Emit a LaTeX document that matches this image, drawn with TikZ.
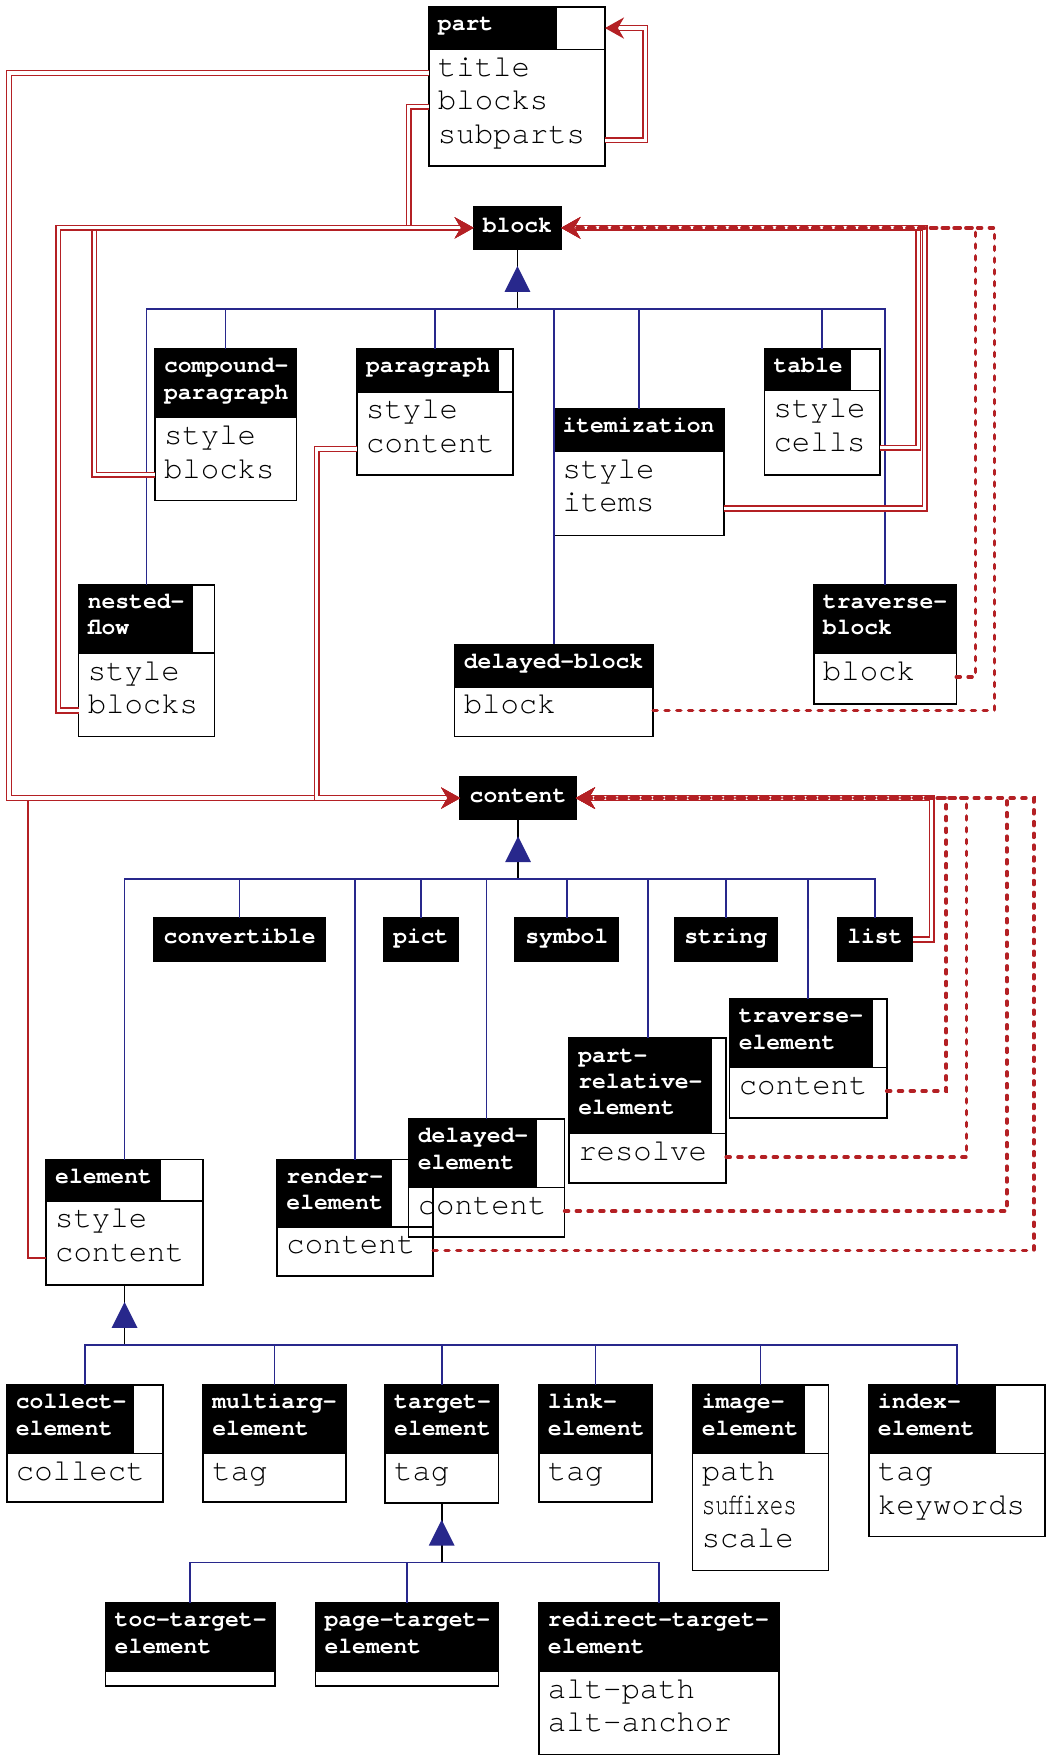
\documentclass[tikz,border=0pt]{standalone}
\usepackage{fontspec}
\setmonofont{TeX Gyre Cursor}
\usepackage{tikz}
\usetikzlibrary{arrows.meta,calc,positioning}
\definecolor{refRed} {RGB}{180, 32, 36}
\definecolor{isaBlue}{RGB}{40,  40, 140}

\newcommand{\fieldfont}{\fontsize{27.3}{30}\selectfont\ttfamily}
\newcommand{\namefont}{\fontsize{20.5}{23.5}\selectfont\ttfamily\bfseries}

% class: name, top left, width, height, black width, header height, title
\newcommand{\umlclass}[7]{%
  \node[clsbox,minimum width=#3pt,minimum height=#4pt] (#1) at #2 {};
  \node[clshead,minimum width=#5pt,minimum height=#6pt] (#1-h) at #2 {};
  \draw[line width=1.4pt] (#1.west |- #1-h.south) -- (#1.east |- #1-h.south);
  \node[clsname] (#1-n) at ($(#1.north west)+(8,4)$) {\rule{0pt}{17pt}#7};
}

\begin{document}
\begin{tikzpicture}[x=1pt,y=-1pt,
    clsbox/.style={draw,line width=1.4pt,anchor=north west,inner sep=0,outer sep=0},
    clshead/.style={fill=black,anchor=north west,inner sep=0,outer sep=0},
    clsname/.style={anchor=north west,align=left,text=white,font=\namefont,inner sep=0},
    fld/.style={anchor=base west,font=\fieldfont,inner sep=0,text height=12pt,text depth=6pt},
    namebox/.style={fill=black,draw=black,line width=1.4pt,anchor=north west,text=white,
      font=\namefont,minimum height=38pt,inner sep=0,outer sep=0,text height=14pt,text depth=6pt},
    isaline/.style={isaBlue,line width=1.5pt},
    stemline/.style={black,line width=1.5pt},
    listref/.style={refRed,line width=1.3pt,double=white,double distance=2.8pt,
      -{Stealth[length=17pt,width=19pt]}},
    oneref/.style={refRed,line width=1.5pt,-{Stealth[length=17pt,width=19pt]}},
    thunkref/.style={refRed,line width=3.2pt,dash pattern=on 3.5pt off 7pt,line cap=round,
      -{Stealth[length=17pt,width=19pt]}}]

  \useasboundingbox (0,0) rectangle (937,1568);

  % part and block
  \umlclass{part}{(382,6)}{157}{142}{114}{38}{part}
  \node[fld] (part-title) at (390,68) {title};
  \node[fld] (part-blocks) at (390,98) {blocks};
  \node[fld] (part-subparts) at (390,128) {subparts};
  \node[namebox,minimum width=78pt] (block) at (422,184) {block};

  % block subclasses
  \umlclass{cpara}{(138,311)}{126}{135}{126}{61}{compound-\\paragraph}
  \node[fld] (cpara-style) at (146,396) {style};
  \node[fld] (cpara-blocks) at (146,426) {blocks};
  \umlclass{para}{(318,311)}{139}{112}{127}{38}{paragraph}
  \node[fld] (para-style) at (326,373) {style};
  \node[fld] (para-content) at (326,403) {content};
  \umlclass{item}{(493,364)}{152}{113}{152}{38}{itemization}
  \node[fld] (item-style) at (501,426) {style};
  \node[fld] (item-items) at (501,456) {items};
  \umlclass{table}{(681,311)}{103}{112}{77}{37}{table}
  \node[fld] (table-style) at (689,372) {style};
  \node[fld] (table-cells) at (689,402) {cells};
  \umlclass{nflow}{(70,521)}{121}{135}{102}{61}{nested-\\flow}
  \node[fld] (nflow-style) at (78,606) {style};
  \node[fld] (nflow-blocks) at (78,636) {blocks};
  \umlclass{dblock}{(405,574)}{177}{82}{177}{38}{delayed-block}
  \node[fld] (dblock-block) at (413,636) {block};
  \umlclass{tblock}{(725,521)}{127}{106}{127}{61}{traverse-\\block}
  \node[fld] (tblock-block) at (733,606) {block};

  % content and its subclasses
  \node[namebox,minimum width=103pt] (content) at (410,692) {content};
  \node[namebox,minimum width=153pt] (conv) at (137,818) {convertible};
  \node[namebox,minimum width=66pt] (pict) at (342,818) {pict};
  \node[namebox,minimum width=92pt] (symbol) at (459,818) {symbol};
  \node[namebox,minimum width=91pt] (string) at (601,818) {string};
  \node[namebox,minimum width=67pt] (list) at (746,818) {list};
  \umlclass{telem}{(650,890)}{140}{106}{128}{61}{traverse-\\element}
  \node[fld] (telem-content) at (658,975) {content};
  \umlclass{prel}{(507,925)}{140}{129}{127}{85}{part-\\relative-\\element}
  \node[fld] (prel-resolve) at (515,1034) {resolve};
  \umlclass{relem}{(247,1033)}{139}{104}{102}{60}{render-\\element}
  \node[fld] (relem-content) at (255,1117) {content};
  \umlclass{delem}{(364,997)}{139}{105}{114}{61}{delayed-\\element}
  \node[fld] (delem-content) at (372,1082) {content};
  \umlclass{elem}{(41,1033)}{140}{112}{102}{37}{element}
  \node[fld] (elem-style) at (49,1094) {style};
  \node[fld] (elem-content) at (49,1124) {content};

  % element subclasses
  \umlclass{collect}{(6,1234)}{139}{104}{113}{61}{collect-\\element}
  \node[fld] (collect-collect) at (14,1319) {collect};
  \umlclass{multiarg}{(181,1234)}{127}{104}{127}{61}{multiarg-\\element}
  \node[fld] (multiarg-tag) at (189,1319) {tag};
  \umlclass{target}{(343,1234)}{101}{105}{101}{61}{target-\\element}
  \node[fld] (target-tag) at (351,1319) {tag};
  \umlclass{link}{(480,1234)}{101}{104}{101}{61}{link-\\element}
  \node[fld] (link-tag) at (488,1319) {tag};
  \umlclass{image}{(617,1234)}{121}{165}{100}{61}{image-\\element}
  \node[fld] (image-path) at (625,1319) {path};
  \node[fld] (image-suffixes) at (625,1349) {\scalebox{0.74}[1]{suffixes}};
  \node[fld] (image-scale) at (625,1379) {scale};
  \umlclass{index}{(774,1234)}{157}{135}{113}{61}{index-\\element}
  \node[fld] (index-tag) at (782,1319) {tag};
  \node[fld] (index-keywords) at (782,1349) {keywords};

  % target-element subclasses
  \umlclass{toc}{(94,1428)}{151}{74}{151}{61}{toc-target-\\element}
  \umlclass{page}{(281,1428)}{163}{74}{163}{61}{page-target-\\element}
  \umlclass{redirect}{(480,1428)}{214}{135}{214}{61}{redirect-target-\\element}
  \node[fld] (redirect-altpath) at (488,1513) {alt-path};
  \node[fld] (redirect-altanchor) at (488,1543) {alt-anchor};

  % inheritance trees
  \foreach \p/\kids in {block/{nflow,cpara,para,dblock,item,table,tblock},
      content/{elem,conv,relem,pict,delem,symbol,prel,string,telem,list},
      elem/{collect,multiarg,target,link,image,index},
      target/{toc,page,redirect}}{
    \coordinate (\p-bus) at ($(\p.south)+(0,53)$);
    \draw[stemline] (\p.south) -- (\p-bus);
    \fill[isaBlue] ($(\p.south)+(0,15)$) -- ++(11.5,23) -- ++(-23,0) -- cycle;
    \foreach \c in \kids
      \draw[isaline] (\c.north) |- (\p-bus);
  }

  % fields holding lists
  \draw[oneref] (elem.west |- elem-content) -- ++(-16,0) |- (content.west);
  \draw[listref] (part.west |- part-title) -- ++(-374,0) |- (content.west);
  \draw[listref] (para.west |- para-content) -- ++(-36,0) |- (content.west);
  \draw[listref] (list.east) -- ++(17,0) |- (content.east);
  \draw[listref] (part.west |- part-blocks) -- ++(-18,0) |- (block.west);
  \draw[listref] (cpara.west |- cpara-blocks) -- ++(-54,0) |- (block.west);
  \draw[listref] (nflow.west |- nflow-blocks) -- ++(-18,0) |- (block.west);
  \draw[listref] (table.east |- table-cells) -- ++(34,0) |- (block.east);
  \draw[listref] (item.east |- item-items) -- ++(179,0) |- (block.east);
  \draw[listref] (part.east |- part-subparts) -- ++(36,0) |- (part.east |- part-h);

  % delayed fields
  \draw[thunkref] (tblock.east |- tblock-block) -- ++(17,0) |- (block.east);
  \draw[thunkref] (dblock.east |- dblock-block) -- ++(304,0) |- (block.east);
  \draw[thunkref] (telem.east |- telem-content) -- ++(53,0) |- (content.east);
  \draw[thunkref] (prel.east |- prel-resolve) -- ++(214,0) |- (content.east);
  \draw[thunkref] (delem.east |- delem-content) -- ++(394,0) |- (content.east);
  \draw[thunkref] (relem.east |- relem-content) -- ++(535,0) |- (content.east);

\end{tikzpicture}
\end{document}
